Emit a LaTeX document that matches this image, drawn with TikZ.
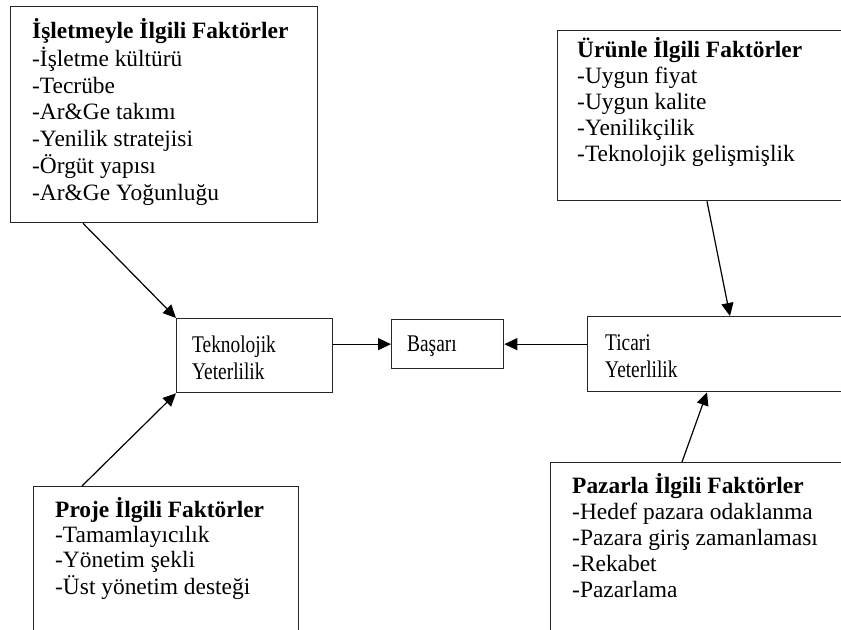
\documentclass[tikz,border=0pt]{standalone}
\usepackage{fontspec}
\setmainfont{Liberation Serif}
\usetikzlibrary{arrows.meta,calc}
% central labels are set narrower than the factor lists
\newcommand{\narrowtext}[1]{\scalebox{0.81}[1]{#1}}
\begin{document}
\begin{tikzpicture}[x=1bp,y=-1bp,
  frame/.style={draw=black!85,line width=1.3bp,inner sep=0pt,anchor=north west},
  txt/.style={anchor=base west,inner sep=0pt},
  arr/.style={line width=1.2bp,-{Triangle[length=13bp,width=12bp]}}]
\useasboundingbox (0,0) rectangle (841,630);
\clip (0,0) rectangle (841,630);

% factor boxes (some run off the page edge)
\node[frame,minimum width=307bp,minimum height=216bp] (b1) at (10,6) {};
\node[frame,minimum width=300bp,minimum height=170bp] (b2) at (557,30) {};
\node[frame,minimum width=265bp,minimum height=170bp] (proje) at (33,486) {};
\node[frame,minimum width=300bp,minimum height=190bp] (paz) at (550,462) {};

% central boxes
\node[frame,minimum width=156bp,minimum height=74bp] (tek) at (176,318) {};
\node[frame,minimum width=112bp,minimum height=49bp] (bas) at (391,319) {};
\node[frame,minimum width=270bp,minimum height=75bp] (tic) at (587,316) {};

% texts
\node[txt,font=\fontsize{23.5}{26.8}\selectfont] (t1) at (32,39) {\begin{tabular}[t]{@{}l@{}}\textbf{İşletmeyle İlgili Faktörler}\\-İşletme kültürü\\-Tecrübe\\-Ar\&Ge takımı\\-Yenilik stratejisi\\-Örgüt yapısı\\-Ar\&Ge Yoğunluğu\end{tabular}};
\node[txt,font=\fontsize{23.5}{26}\selectfont] (t2) at (577,58) {\begin{tabular}[t]{@{}l@{}}\textbf{Ürünle İlgili Faktörler}\\-Uygun fiyat\\-Uygun kalite\\-Yenilikçilik\\-Teknolojik gelişmişlik\end{tabular}};
\node[txt,font=\fontsize{23.5}{25.5}\selectfont] (t3) at (55,517) {\begin{tabular}[t]{@{}l@{}}\textbf{Proje İlgili Faktörler}\\-Tamamlayıcılık\\-Yönetim şekli\\-Üst yönetim desteği\end{tabular}};
\node[txt,font=\fontsize{23.5}{26.2}\selectfont] (t4) at (572,493) {\begin{tabular}[t]{@{}l@{}}\textbf{Pazarla İlgili Faktörler}\\-Hedef pazara odaklanma\\-Pazara giriş zamanlaması\\-Rekabet\\-Pazarlama\end{tabular}};
\node[txt,font=\fontsize{24}{28}\selectfont] (t5) at (192,352) {\narrowtext{\begin{tabular}[t]{@{}l@{}}Teknolojik\\Yeterlilik\end{tabular}}};
\node[txt,font=\fontsize{24}{28}\selectfont] (t6) at (407,351) {\narrowtext{Başarı}};
\node[txt,font=\fontsize{24}{28}\selectfont] (t7) at (605,350) {\narrowtext{\begin{tabular}[t]{@{}l@{}}Ticari\\Yeterlilik\end{tabular}}};

% connectors
\draw[arr] ([xshift=73bp]b1.south west) -- (tek.north west);
\draw[arr] ([xshift=49bp]proje.north west) -- (tek.south west);
\draw[arr] (tek.east |- bas.west) -- (bas.west);
\draw[arr] (tic.west |- bas.east) -- (bas.east);
\draw[arr] ([xshift=150bp]b2.south west) -- ([xshift=143bp]tic.north west);
\draw[arr] ([xshift=132bp]paz.north west) -- ([xshift=120bp]tic.south west);
\end{tikzpicture}
\end{document}
